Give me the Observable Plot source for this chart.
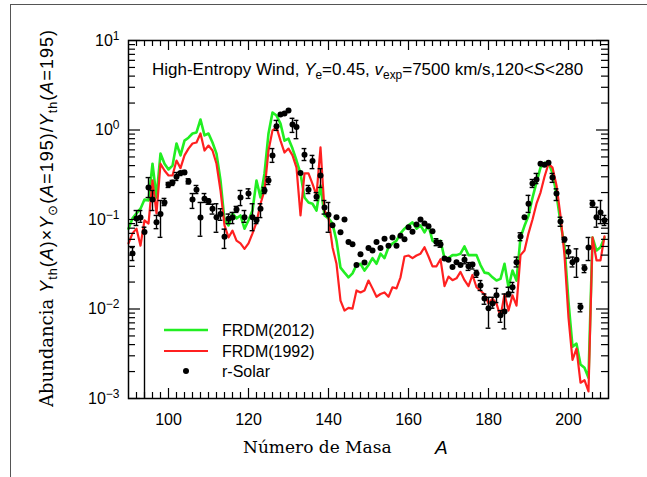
<!DOCTYPE html>
<html><head><meta charset="utf-8">
<script src="https://cdn.jsdelivr.net/npm/d3@7"></script>
<script src="https://cdn.jsdelivr.net/npm/@observablehq/plot@0.6"></script>
<style>
html,body{margin:0;padding:0;background:#fff;}
#wrap{position:relative;width:647px;height:477px;overflow:hidden;font-family:"Liberation Sans",Arial,sans-serif;color:#000;}
#border{position:absolute;left:10px;top:4px;width:700px;height:600px;border-left:1.5px solid #555;border-top:1.5px solid #555;}
#chart{position:absolute;left:0;top:0;}
.ov{position:absolute;white-space:nowrap;line-height:1;}
sub{font-size:0.7em;vertical-align:-0.3em;line-height:0;}
.serif{font-family:"DejaVu Serif",serif;}
#title{left:152px;top:61px;font-size:17px;}
#ylab{left:47px;top:218px;font-size:18px;letter-spacing:1px;transform:translate(-50%,-50%) rotate(-90deg);}
#ylab .serif{font-size:18px;letter-spacing:0;}
#xlab{left:243px;top:439px;font-size:17px;}
#xlabA{left:435px;top:438px;font-size:19px;font-style:italic;}
</style></head>
<body>
<div id="wrap">
<div id="border"></div>
<div id="chart"></div>
<div id="title" class="ov">High-Entropy Wind, <i>Y</i><sub>e</sub>=0.45, <i>v</i><sub>exp</sub>=7500 km/s,120&lt;<i>S</i>&lt;280</div>
<div id="ylab" class="ov"><span class="serif">Abundancia</span>&nbsp;<i>Y</i><sub>th</sub>(<i>A</i>)×<i>Y</i><sub>⊙</sub>(<i>A</i>=195)/<i>Y</i><sub>th</sub>(<i>A</i>=195)</div>
<div id="xlab" class="ov serif">Número de Masa</div>
<div id="xlabA" class="ov">A</div>
</div>
<script>
// Mass numbers for the model curves
const massNumbers = [90,91,92,93,94,95,96,97,98,99,100,101,102,103,104,105,106,107,108,109,110,111,112,113,114,115,116,117,118,119,120,121,122,123,124,125,126,127,128,129,130,131,132,133,134,135,136,137,138,139,140,141,142,143,144,145,146,147,148,149,150,151,152,153,154,155,156,157,158,159,160,161,162,163,164,165,166,167,168,169,170,171,172,173,174,175,176,177,178,179,180,181,182,183,184,185,186,187,188,189,190,191,192,193,194,195,196,197,198,199,200,201,202,203,204,205,206,207,208,209];

// FRDM(2012) abundances
const frdm2012 = [0.079,0.103,0.117,0.132,0.167,0.163,0.42,0.176,0.545,0.42,0.362,0.40,0.706,0.52,0.76,0.82,0.914,0.94,1.31,0.87,0.914,0.725,0.545,0.273,0.098,0.086,0.117,0.103,0.111,0.079,0.098,0.126,0.273,0.176,0.327,0.914,1.57,1.45,1.18,0.76,0.80,0.62,0.456,0.327,0.176,0.155,0.15,0.126,0.24,0.111,0.103,0.09,0.058,0.029,0.0255,0.0226,0.025,0.031,0.032,0.0269,0.031,0.037,0.032,0.0415,0.037,0.049,0.054,0.058,0.07,0.079,0.086,0.093,0.079,0.086,0.072,0.086,0.058,0.054,0.058,0.037,0.037,0.040,0.040,0.0415,0.050,0.040,0.040,0.040,0.031,0.0255,0.025,0.0226,0.0208,0.0217,0.032,0.0175,0.0269,0.0208,0.063,0.085,0.11,0.175,0.26,0.38,0.43,0.43,0.33,0.19,0.093,0.05,0.012,0.0038,0.0041,0.0024,0.0022,0.0017,0.063,0.045,0.049,0.063];

// FRDM(1992) abundances
const frdm1992 = [0.054,0.070,0.079,0.051,0.098,0.090,0.273,0.117,0.42,0.353,0.31,0.31,0.456,0.375,0.52,0.62,0.706,0.725,0.914,0.59,0.67,0.59,0.42,0.211,0.086,0.063,0.075,0.058,0.054,0.047,0.054,0.070,0.093,0.15,0.211,0.59,0.99,1.07,0.76,0.56,0.62,0.52,0.38,0.111,0.327,0.327,0.25,0.186,0.64,0.126,0.105,0.049,0.032,0.0124,0.0096,0.0103,0.0101,0.0161,0.0153,0.0161,0.0208,0.017,0.0137,0.0147,0.0153,0.0137,0.0175,0.017,0.0226,0.0386,0.0396,0.037,0.0396,0.0415,0.049,0.0386,0.03,0.03,0.036,0.018,0.023,0.021,0.022,0.026,0.021,0.018,0.024,0.0175,0.016,0.0146,0.0115,0.013,0.0115,0.0082,0.0146,0.0096,0.0142,0.0109,0.04,0.045,0.07,0.1,0.15,0.2,0.3,0.42,0.38,0.24,0.11,0.04,0.008,0.0027,0.0036,0.0015,0.0016,0.0012,0.063,0.035,0.035,0.065];

// r-Solar abundances with error bars (null = no visible bar)
const solarA = [91,92,93,94,95,96,97,98,99,100,101,102,103,104,105,106,107,108,109,110,111,112,113,114,115,116,117,118,119,120,121,122,123,124,125,126,127,128,129,130,131,132,133,134,135,136,137,138,139,140,141,142,143,144,145,146,147,148,149,150,151,152,153,154,155,156,157,158,159,160,161,162,163,164,165,166,167,168,169,170,171,172,173,174,175,176,177,178,179,180,181,182,183,184,185,186,187,188,189,190,191,192,193,194,195,196,197,198,199,200,201,202,203,204,205,206,207,208,209];
const solarY = [0.0417,0.1026,0.105,0.0725,0.228,0.167,0.093,0.115,0.155,0.246,0.259,0.30,0.33,0.335,0.266,0.167,0.215,0.105,0.17,0.16,0.132,0.106,0.115,0.064,0.102,0.105,0.129,0.176,0.106,0.195,0.106,0.098,0.132,0.211,0.273,0.52,1.10,1.49,1.53,1.65,1.15,1.08,0.33,0.53,0.215,0.45,0.18,0.31,0.136,0.113,0.086,0.106,0.072,0.10,0.056,0.053,0.031,0.041,0.033,0.048,0.045,0.056,0.048,0.061,0.051,0.063,0.051,0.066,0.060,0.082,0.073,0.088,0.100,0.090,0.084,0.074,0.056,0.053,0.0366,0.0356,0.0295,0.0333,0.031,0.0356,0.030,0.0315,0.025,0.0183,0.0131,0.0102,0.0115,0.0142,0.0085,0.0094,0.0147,0.0175,0.0333,0.0644,0.106,0.15,0.252,0.28,0.42,0.41,0.43,0.295,0.195,0.095,0.06,0.0435,0.0333,0.0356,0.0105,0.0285,0.0486,0.15,0.106,0.12,0.098];
const solarHi = [0.0486,0.126,0.126,0.082,0.294,0.211,0.111,0.163,0.172,0.259,0.273,0.335,0.34,0.353,0.285,0.195,0.24,0.155,0.195,0.17,0.148,0.15,0.132,0.078,0.115,0.12,0.14,0.211,0.126,0.22,0.15,0.105,0.15,0.228,0.30,0.62,1.28,null,null,null,1.35,1.28,null,0.62,0.24,0.52,0.20,0.37,0.163,0.155,null,null,null,null,null,null,null,null,null,null,null,null,null,null,null,null,null,null,null,null,null,null,null,null,null,null,0.061,0.058,null,null,null,null,null,0.040,0.033,0.033,0.027,0.0208,0.0147,0.0135,0.0135,0.017,0.0096,0.0147,0.0175,0.0198,0.038,0.071,null,0.186,0.28,0.327,null,null,null,0.327,0.22,0.106,0.063,0.051,0.038,0.047,0.0115,0.031,0.063,0.163,0.137,0.163,0.111];
const solarLo = [0.0348,0.0857,0.093,0.0005,0.176,0.126,0.079,0.0632,0.143,0.228,0.240,0.273,0.31,0.32,0.25,0.133,0.195,0.065,0.155,0.148,0.115,0.072,0.098,0.0475,0.09,0.09,0.12,0.143,0.093,0.172,0.075,0.09,0.105,0.195,0.246,0.435,0.99,null,null,null,0.94,0.80,null,0.456,0.195,0.37,0.163,0.228,0.115,0.072,null,null,null,null,null,null,null,null,null,null,null,null,null,null,null,null,null,null,null,null,null,null,null,null,null,null,0.051,0.049,null,null,null,null,null,0.032,0.027,0.028,0.0226,0.0161,0.0113,0.0061,0.0102,0.0118,0.0071,0.006,0.0137,0.0153,0.0295,0.058,null,0.12,0.228,0.252,null,null,null,0.26,0.163,0.084,0.056,0.037,0.0295,0.0226,0.0093,0.0255,0.0348,0.137,0.082,0.09,0.0857];

// Tick values
const xMajorTicks = [100,120,140,160,180,200];
const xMinorTicks = [92,94,96,98,102,104,106,108,110,112,114,116,118,122,124,126,128,130,132,134,136,138,142,144,146,148,150,152,154,156,158,162,164,166,168,170,172,174,176,178,182,184,186,188,190,192,194,196,198,202,204,206,208];
const yMajorTicks = [0.001,0.01,0.1,1,10];
const yMinorTicks = [0.002,0.003,0.004,0.005,0.006,0.007,0.008,0.009,0.02,0.03,0.04,0.05,0.06,0.07,0.08,0.09,0.2,0.3,0.4,0.5,0.6,0.7,0.8,0.9,2,3,4,5,6,7,8,9];

const seriesNames = ["FRDM(2012)","FRDM(1992)","r-Solar"];
const seriesColors = ["#22ee22","#ff2020","#000000"];

const curves = massNumbers.map((A,i)=>({A, g: frdm2012[i], r: frdm1992[i]}));
const solar = solarA.map((A,i)=>({A, y: solarY[i], hi: solarHi[i], lo: solarLo[i]}));
const errs = solar.filter(d=>d.hi!=null);

const W=647,H=477,mL=128,mR=39,mT=40,mB=79;
const pw=W-mL-mR, ph=H-mT-mB;
const tk = {stroke:"black",strokeWidth:1.2};

const svg = Plot.plot({
  width:W,height:H,marginLeft:mL,marginRight:mR,marginTop:mT,marginBottom:mB,
  x:{domain:[90,210],label:null},
  y:{type:"log",domain:[1e-3,10],clamp:true,label:null},
  style:{fontFamily:'"Liberation Sans",Arial,sans-serif',fontSize:"16px",color:"black",background:"transparent"},
  marks:[
    Plot.line(curves,{x:"A",y:"g",stroke:seriesColors[0],strokeWidth:2.6}),
    Plot.line(curves,{x:"A",y:"r",stroke:seriesColors[1],strokeWidth:2.2}),
    Plot.ruleX(errs,{x:"A",y1:"lo",y2:"hi",stroke:"black",strokeWidth:1.4}),
    Plot.ruleY(errs,{y:"hi",x1:d=>d.A-0.6,x2:d=>d.A+0.6,stroke:"black",strokeWidth:1.4}),
    Plot.ruleY(errs.filter(d=>d.lo>=1e-3),{y:"lo",x1:d=>d.A-0.6,x2:d=>d.A+0.6,stroke:"black",strokeWidth:1.4}),
    Plot.dot(solar,{x:"A",y:"y",r:3,fill:"black",stroke:"none"}),
    Plot.ruleX(xMajorTicks,{...tk,insetTop:ph-10}),
    Plot.ruleX(xMajorTicks,{...tk,insetBottom:ph-10}),
    Plot.ruleX(xMinorTicks,{...tk,insetTop:ph-6}),
    Plot.ruleX(xMinorTicks,{...tk,insetBottom:ph-6}),
    Plot.ruleY(yMajorTicks,{...tk,insetRight:pw-12}),
    Plot.ruleY(yMajorTicks,{...tk,insetLeft:pw-12}),
    Plot.ruleY(yMinorTicks,{...tk,insetRight:pw-7}),
    Plot.ruleY(yMinorTicks,{...tk,insetLeft:pw-7}),
    Plot.frame({stroke:"black",strokeWidth:1.5}),
    Plot.axisX(xMajorTicks,{tickSize:0,tickPadding:15,label:null}),
    Plot.axisY(yMajorTicks,{tickSize:0,tickPadding:9,label:null,
      tickFormat:d=>{const e=Math.round(Math.log10(d));return (e<0?"\u2212":"")+Math.abs(e);}})
  ]
});

const s = d3.select(svg);
s.selectAll('g[aria-label="y-axis tick label"] text').each(function(){
  const e=this.textContent; this.textContent="10";
  d3.select(this).append("tspan").attr("dy","-0.5em").attr("font-size","12px").text(e);
});

// legend
const lg = s.append("g").attr("font-size","16px").attr("text-anchor","start");
const rows=[{y:330,kind:"line",c:seriesColors[0],w:2.6},{y:351,kind:"line",c:seriesColors[1],w:2.2},{y:371,kind:"dot",c:seriesColors[2]}];
rows.forEach((r,i)=>{
  if(r.kind==="line") lg.append("line").attr("x1",164).attr("x2",208).attr("y1",r.y).attr("y2",r.y).attr("stroke",r.c).attr("stroke-width",r.w);
  else lg.append("circle").attr("cx",186).attr("cy",r.y).attr("r",3).attr("fill",r.c);
  lg.append("text").attr("x",222).attr("y",r.y).attr("dy","0.36em").text(seriesNames[i]);
});

document.getElementById("chart").appendChild(svg);
</script>
</body></html>
